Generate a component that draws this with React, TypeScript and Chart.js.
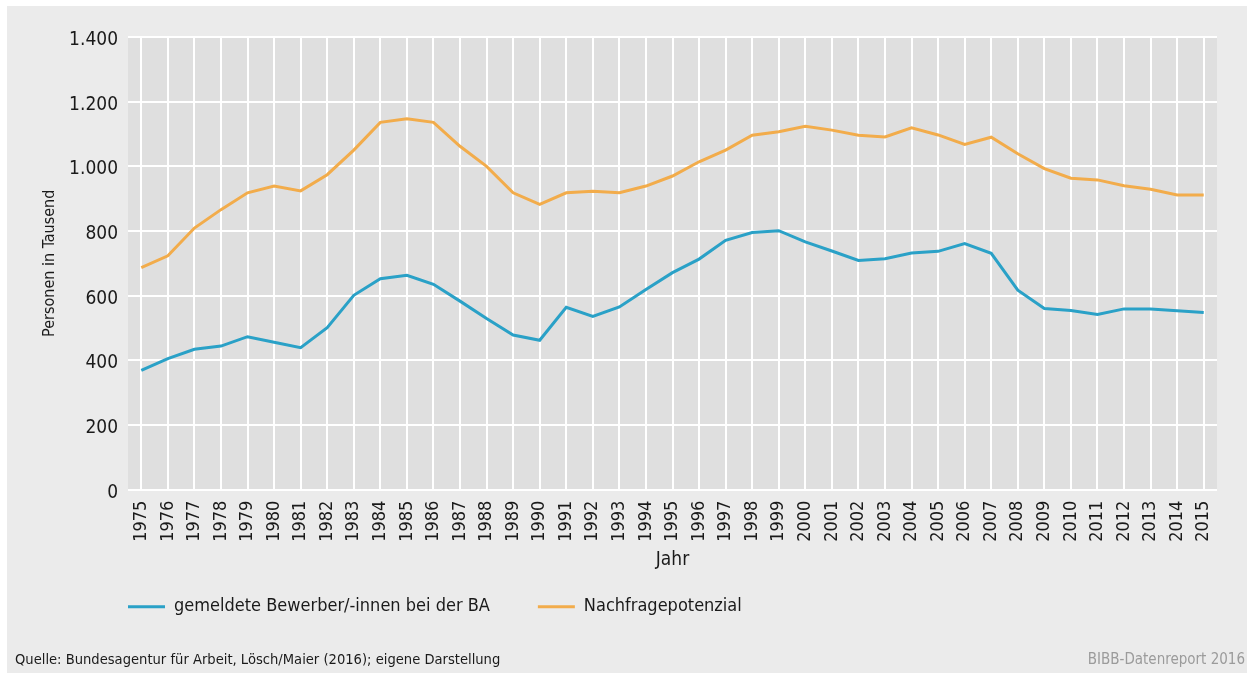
import React, { useEffect, useRef } from 'react';
import { Chart, registerables } from 'chart.js';

Chart.register(...registerables);

const years = [
  '1975', '1976', '1977', '1978', '1979', '1980', '1981', '1982', '1983', '1984',
  '1985', '1986', '1987', '1988', '1989', '1990', '1991', '1992', '1993', '1994',
  '1995', '1996', '1997', '1998', '1999', '2000', '2001', '2002', '2003', '2004',
  '2005', '2006', '2007', '2008', '2009', '2010', '2011', '2012', '2013', '2014',
  '2015',
];

const bewerber = [
  369, 405, 434, 444, 473, 456, 439, 501, 601, 652,
  663, 635, 583, 529, 478, 462, 564, 536, 565, 619,
  671, 713, 771, 795, 801, 766, 738, 709, 714, 732,
  737, 761, 731, 617, 560, 554, 542, 559, 559, 553,
  548,
];

const nachfrage = [
  687, 723, 809, 866, 918, 939, 924, 974, 1050, 1136,
  1147, 1136, 1062, 1000, 918, 882, 918, 923, 918, 939,
  970, 1014, 1050, 1096, 1107, 1124, 1112, 1096, 1091, 1119,
  1097, 1068, 1090, 1039, 993, 963, 958, 940, 929, 911,
  911,
];

const seriesLabels = ['gemeldete Bewerber/-innen bei der BA', 'Nachfragepotenzial'];
const seriesColors = ['#2aa1c7', '#f2ac4b'];
const yMin = 0;
const yMax = 1400;
const yStep = 200;
const yTitle = 'Personen in Tausend';
const xTitle = 'Jahr';
const sourceText = 'Quelle: Bundesagentur für Arbeit, Lösch/Maier (2016); eigene Darstellung';
const creditText = 'BIBB-Datenreport 2016';

const FONT = "'Liberation Sans Narrow', 'Arial Narrow', 'DejaVu Sans Condensed', 'Roboto', sans-serif";
const TEXT = '#1a1a1a';
const LEGEND_PAD = 48;
const LEGEND_FONT = 18;

const fmt = (v: number | string) =>
  String(v).replace(/\B(?=(\d{3})+(?!\d))/g, '.');

const plotBg = {
  id: 'plotBg',
  beforeDraw(chart: any) {
    const { ctx, chartArea } = chart;
    if (!chartArea) return;
    ctx.save();
    ctx.fillStyle = '#dfdfdf';
    ctx.fillRect(chartArea.left, chartArea.top, chartArea.right - chartArea.left, chartArea.bottom - chartArea.top);
    ctx.restore();
  },
};

// place the legend row under the x-axis title, starting at the plot's left edge
const legendPlacer = {
  id: 'legendPlacer',
  afterLayout(chart: any) {
    const lg = chart.legend;
    if (!lg) return;
    const h = lg.bottom - lg.top;
    lg.left = chart.chartArea.left - LEGEND_PAD;
    lg.top = 600.7 - LEGEND_PAD - LEGEND_FONT / 2;
    lg.bottom = lg.top + h;
  },
};

export default function App() {
  const canvasRef = useRef<HTMLCanvasElement | null>(null);

  useEffect(() => {
    if (!canvasRef.current) return;
    const chart = new Chart(canvasRef.current, {
      type: 'line',
      data: {
        labels: years,
        datasets: [
          {
            label: seriesLabels[0],
            data: bewerber,
            borderColor: seriesColors[0],
            backgroundColor: seriesColors[0],
            borderWidth: 3,
            pointRadius: 0,
            tension: 0,
            fill: false,
          },
          {
            label: seriesLabels[1],
            data: nachfrage,
            borderColor: seriesColors[1],
            backgroundColor: seriesColors[1],
            borderWidth: 3,
            pointRadius: 0,
            tension: 0,
            fill: false,
          },
        ],
      },
      options: {
        animation: false,
        responsive: true,
        maintainAspectRatio: false,
        devicePixelRatio: 1,
        events: [],
        layout: { padding: { left: 0, right: 30, top: 31, bottom: 667 - 483.6 - 91 - (LEGEND_FONT + LEGEND_PAD + 10) } },
        plugins: {
          legend: {
            position: 'bottom',
            align: 'start',
            labels: {
              font: { family: FONT, size: LEGEND_FONT },
              color: TEXT,
              boxWidth: 37,
              boxHeight: 3,
              padding: LEGEND_PAD,
              generateLabels: (c: any) =>
                (Chart.defaults.plugins.legend.labels.generateLabels as any)(c).map((l: any) => ({
                  ...l,
                  lineWidth: 0,
                })),
            },
          },
          tooltip: { enabled: false },
        },
        scales: {
          x: {
            type: 'category',
            offset: true,
            grid: { color: '#ffffff', lineWidth: 2, drawTicks: false, offset: false },
            border: { display: false },
            ticks: {
              autoSkip: false,
              minRotation: 90,
              maxRotation: 90,
              padding: 11,
              color: TEXT,
              font: { family: FONT, size: 18 },
            },
            title: {
              display: true,
              text: xTitle,
              color: TEXT,
              font: { family: FONT, size: 19 },
              padding: { top: 0, bottom: 9 },
            },
            afterFit: (s: any) => {
              s.height = 91;
            },
          },
          y: {
            min: yMin,
            max: yMax,
            grid: { color: '#ffffff', lineWidth: 2, drawTicks: false },
            border: { display: false },
            ticks: {
              stepSize: yStep,
              padding: 10,
              labelOffset: 3,
              color: TEXT,
              font: { family: FONT, size: 19 },
              callback: (v: any) => fmt(v),
            },
            title: {
              display: true,
              text: yTitle,
              color: TEXT,
              font: { family: FONT, size: 16 },
              padding: { top: 33, bottom: 0 },
            },
            afterFit: (s: any) => {
              s.width = 121;
            },
          },
        },
      } as any,
      plugins: [plotBg, legendPlacer],
    });
    return () => chart.destroy();
  }, []);

  return (
    <div
      style={{
        position: 'absolute',
        left: 7,
        top: 6,
        width: 1240,
        height: 667,
        background: '#ebebeb',
        overflow: 'hidden',
      }}
    >
      <div style={{ position: 'absolute', left: 0, top: 0, width: 1240, height: 667 }}>
        <canvas ref={canvasRef} />
      </div>
      <div
        style={{
          position: 'absolute',
          left: 8,
          top: 644,
          fontFamily: FONT,
          fontSize: 14.6,
          lineHeight: '18px',
          color: TEXT,
          whiteSpace: 'nowrap',
        }}
      >
        {sourceText}
      </div>
      <div
        style={{
          position: 'absolute',
          right: 2,
          top: 644,
          fontFamily: FONT,
          fontSize: 15,
          lineHeight: '18px',
          color: '#9b9b9b',
          whiteSpace: 'nowrap',
        }}
      >
        {creditText}
      </div>
    </div>
  );
}
